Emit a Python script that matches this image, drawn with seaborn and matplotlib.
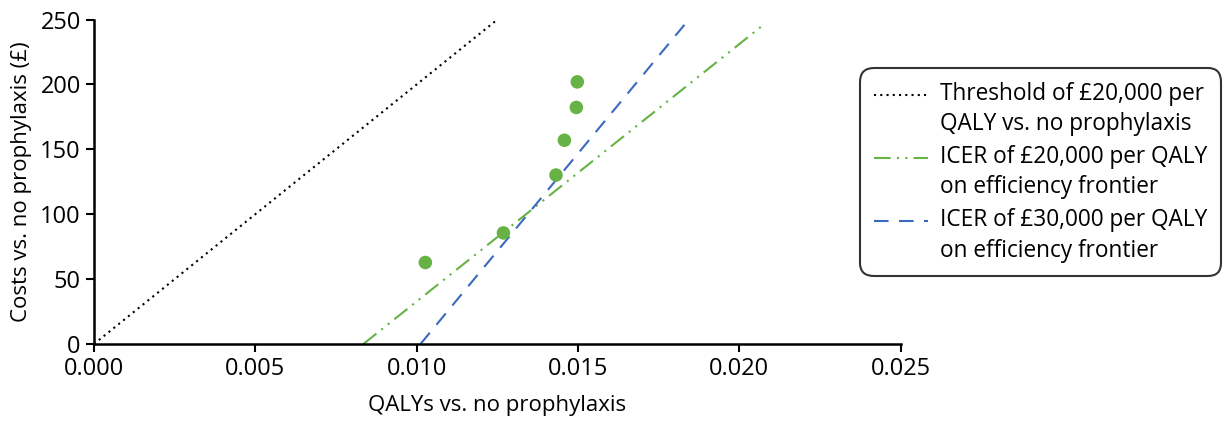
import matplotlib
matplotlib.use("Agg")
from matplotlib import pyplot as plt
import seaborn as sns
import numpy as np

# strategies (QALYs and costs vs. no prophylaxis)
qalys = [0.01027, 0.01269, 0.01432, 0.01458, 0.01495, 0.01498]
costs = [62.8, 85.6, 130.2, 157.0, 182.3, 202.0]

# reference lines
threshold_x = [0.0, 0.0125]
threshold_y = [0.0, 250.0]
icer20_x = [0.00835, 0.02075]
icer20_y = [0.0, 246.0]
icer30_x = [0.01012, 0.01830]
icer30_y = [0.0, 246.0]

x_ticks = [0.000, 0.005, 0.010, 0.015, 0.020, 0.025]
y_ticks = [0, 50, 100, 150, 200, 250]

sns.set_style("white")
plt.rcParams['font.family'] = ['Open Sans', 'DejaVu Sans']
plt.rcParams.update({"text.color": "black", "axes.labelcolor": "black",
                     "xtick.color": "black", "ytick.color": "black"})

green = "#66b245"
blue = "#3a6ac0"

fig = plt.figure(figsize=(12.25, 4.26), dpi=100)
ax = fig.add_axes([0.0767, 0.1925, 0.6585, 0.7615])

sns.lineplot(x=threshold_x, y=threshold_y, ax=ax, color="black", lw=1.5,
             linestyle=(0, (1, 2)), label="Threshold of £20,000 per\nQALY vs. no prophylaxis")
sns.lineplot(x=icer20_x, y=icer20_y, ax=ax, color=green, lw=1.5,
             linestyle=(0, (8, 3, 1, 3, 1, 3)), label="ICER of £20,000 per QALY\non efficiency frontier")
sns.lineplot(x=icer30_x, y=icer30_y, ax=ax, color=blue, lw=1.5,
             linestyle=(0, (7, 5)), label="ICER of £30,000 per QALY\non efficiency frontier")
sns.scatterplot(x=qalys, y=costs, ax=ax, color=green, s=95, edgecolor="none", zorder=5)

ax.set_xlim(0, 0.025)
ax.set_ylim(0, 250)
ax.set_xticks(x_ticks)
ax.set_xticklabels([f"{v:.3f}" for v in x_ticks])
ax.set_yticks(y_ticks)
ax.tick_params(axis="both", direction="out", length=6, width=1.5, labelsize=17, color="black",
               bottom=True, left=True)
for side in ["top", "right"]:
    ax.spines[side].set_visible(False)
for side in ["left", "bottom"]:
    ax.spines[side].set_color("black")
    ax.spines[side].set_linewidth(1.8)
ax.set_xlabel("QALYs vs. no prophylaxis", fontsize=16, labelpad=10)
ax.set_ylabel("Costs vs. no prophylaxis (£)", fontsize=16, labelpad=6)

leg = ax.legend(loc="upper left", bbox_to_anchor=(0.702, 0.840), bbox_transform=fig.transFigure,
                fontsize=16.3, frameon=True, fancybox=True, edgecolor="black", handlelength=2.4,
                labelspacing=0.4, borderpad=0.6, handletextpad=0.55, borderaxespad=0)
leg.get_frame().set_linewidth(1.5)
leg.get_frame().set_boxstyle("round", pad=0, rounding_size=0.6)
for t in leg.get_texts():
    t.set_linespacing(1.35)
# put the legend keys level with the first line of each label
for ln in leg.get_lines():
    ln.set_ydata(np.asarray(ln.get_ydata()) + 11)

fig.savefig("out.png", dpi=100)
